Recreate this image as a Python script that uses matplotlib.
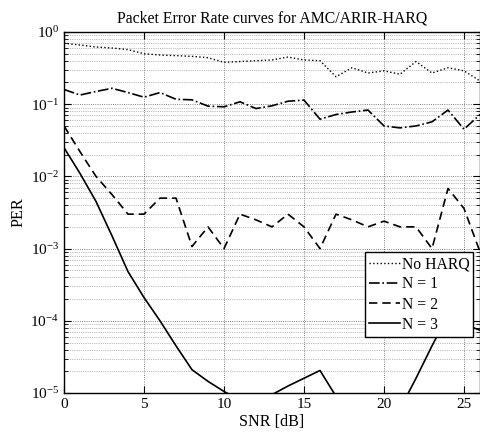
import matplotlib
matplotlib.use("Agg")
import matplotlib.pyplot as plt
import numpy as np

plt.rcParams['font.family'] = ['Liberation Serif', 'DejaVu Serif']
plt.rcParams['mathtext.fontset'] = 'stix'

# SNR grid (dB)
snr = list(range(0, 27))

per_no_harq = [0.70, 0.66, 0.62, 0.60, 0.57, 0.50, 0.48, 0.47, 0.46, 0.44,
               0.38, 0.39, 0.40, 0.41, 0.45, 0.41, 0.40, 0.24, 0.32, 0.27,
               0.29, 0.26, 0.39, 0.27, 0.32, 0.29, 0.21]
per_n1 = [0.16, 0.134, 0.15, 0.166, 0.145, 0.125, 0.145, 0.117, 0.115, 0.094,
          0.092, 0.108, 0.087, 0.095, 0.11, 0.114, 0.062, 0.072, 0.078, 0.083,
          0.050, 0.047, 0.05, 0.057, 0.083, 0.045, 0.072]
per_n2 = [0.05, 0.022, 0.010, 0.0056, 0.003, 0.003, 0.005, 0.005, 0.00107, 0.002,
          0.001, 0.003, 0.0025, 0.002, 0.003, 0.002, 0.001, 0.003, 0.0025, 0.002,
          0.0024, 0.002, 0.002, 0.001, 0.0068, 0.0036, 0.0009]
per_n3 = [0.025, 0.011, 0.0045, 0.0015, 0.00048, 0.00021, 0.0001, 4.5e-5, 2.1e-5, 1.45e-5,
          1.05e-5, 8e-6, 7e-6, 9.5e-6, 1.25e-5, 1.6e-5, 2.05e-5, 9e-6, 5e-6, 5e-6,
          5e-6, 6e-6, 1.6e-5, 4.5e-5, 1.2e-4, 9e-5, 7.4e-5]

labels = ['No HARQ', 'N = 1', 'N = 2', 'N = 3']

fig = plt.figure(figsize=(4.81, 4.32), dpi=100)
ax = fig.add_axes([64 / 481, 39 / 432, 416 / 481, 361 / 432])

ax.semilogy(snr, per_no_harq, color='k', linestyle=':', linewidth=1.0, label=labels[0])
ax.semilogy(snr, per_n1, color='k', linestyle='-.', linewidth=1.2, label=labels[1])
ax.semilogy(snr, per_n2, color='k', linestyle=(0, (5, 3)), linewidth=1.2, label=labels[2])
ax.semilogy(snr, per_n3, color='k', linestyle='-', linewidth=1.2, label=labels[3])

ax.set_xlim(0, 26)
ax.set_ylim(1e-5, 1)
ax.set_xticks([0, 5, 10, 15, 20, 25])
ax.grid(True, which='major', linestyle=':', color='0.35', linewidth=0.6)
ax.grid(True, which='minor', axis='y', linestyle=':', color='0.5', linewidth=0.5)
ax.tick_params(which='both', direction='in', top=True, right=True, labelsize=11)
ax.tick_params(which='major', length=5)
ax.tick_params(which='minor', length=3)
for s in ax.spines.values():
    s.set_linewidth(1.0)

ax.set_title('Packet Error Rate curves for AMC/ARIR-HARQ', fontsize=11.3, pad=7)
ax.set_xlabel('SNR [dB]', fontsize=11.6, labelpad=2)
ax.set_ylabel('PER', fontsize=11.6, labelpad=3)

leg = ax.legend(loc='lower right', bbox_to_anchor=(0.984, 0.156), fontsize=11.3,
                fancybox=False, framealpha=1, edgecolor='k', handlelength=2.0,
                handletextpad=0.1, labelspacing=0.27, borderpad=0.25, borderaxespad=0)
leg.get_frame().set_linewidth(1.0)

plt.savefig('out.png', dpi=100)
plt.close()
